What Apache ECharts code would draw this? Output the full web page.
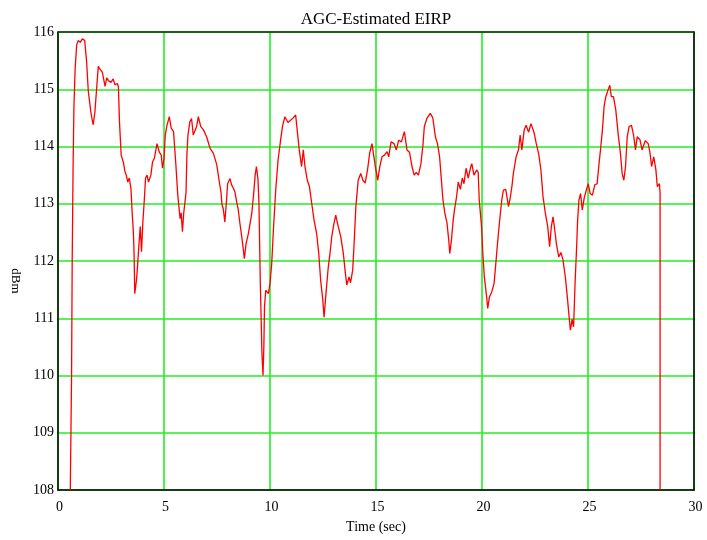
<!DOCTYPE html>
<html><head><meta charset="utf-8">
<script src="https://cdn.jsdelivr.net/npm/echarts@6/dist/echarts.min.js"></script>
<style>html,body{margin:0;padding:0;background:#fff}#c{width:707px;height:540px}</style>
</head><body><div id="c"></div>
<script>
const xTicks = [0, 5, 10, 15, 20, 25, 30];
const yTicks = [108, 109, 110, 111, 112, 113, 114, 115, 116];
const timeSec = [
0.58,0.64,0.67,0.71,0.75,0.81,0.88,0.95,1.05,1.15,1.26,1.35,1.43,1.55,1.62,1.66,1.74,1.82,1.9,1.98,
2.09,2.22,2.3,2.38,2.5,2.6,2.69,2.8,2.85,2.9,2.98,3.08,3.16,3.22,3.29,3.36,3.44,3.5,3.55,3.58,
3.6,3.62,3.7,3.74,3.81,3.88,3.94,4.0,4.07,4.13,4.2,4.27,4.38,4.46,4.55,4.67,4.78,4.87,4.93,5.0,
5.06,5.14,5.25,5.34,5.45,5.56,5.65,5.76,5.81,5.87,5.93,6.0,6.04,6.08,6.13,6.22,6.3,6.38,6.46,6.54,
6.62,6.73,6.86,7.01,7.17,7.33,7.49,7.61,7.69,7.73,7.8,7.87,7.95,8.0,8.03,8.11,8.19,8.27,8.35,8.43,
8.5,8.58,8.69,8.79,8.87,8.98,9.14,9.23,9.3,9.36,9.43,9.48,9.54,9.58,9.62,9.67,9.71,9.74,9.8,9.86,
9.92,10.0,10.08,10.16,10.27,10.38,10.5,10.59,10.7,10.85,10.97,11.1,11.21,11.29,11.38,11.49,11.57,11.65,11.76,11.86,
11.97,12.08,12.2,12.3,12.39,12.49,12.55,12.64,12.75,12.83,12.91,12.99,13.1,13.22,13.34,13.46,13.54,13.62,13.73,13.8,
13.9,13.96,14.05,14.16,14.28,14.38,14.49,14.6,14.7,14.81,14.9,14.97,15.08,15.18,15.28,15.4,15.52,15.6,15.71,15.85,
15.96,16.07,16.2,16.34,16.46,16.58,16.7,16.8,16.9,17.0,17.12,17.22,17.28,17.4,17.56,17.68,17.8,17.9,18.0,18.06,
18.16,18.25,18.35,18.43,18.48,18.56,18.64,18.7,18.8,18.88,18.98,19.07,19.15,19.25,19.35,19.47,19.52,19.62,19.75,19.82,
19.87,19.98,20.03,20.11,20.22,20.27,20.35,20.46,20.57,20.65,20.73,20.82,20.93,21.01,21.12,21.25,21.33,21.41,21.48,21.61,
21.72,21.8,21.88,21.99,22.08,22.2,22.31,22.45,22.56,22.67,22.78,22.88,22.99,23.1,23.19,23.27,23.35,23.43,23.51,23.62,
23.72,23.82,23.93,24.01,24.11,24.17,24.25,24.32,24.39,24.47,24.51,24.57,24.65,24.73,24.82,24.9,25.01,25.1,25.21,25.32,
25.43,25.52,25.59,25.68,25.76,25.84,25.95,26.03,26.1,26.2,26.31,26.42,26.53,26.61,26.69,26.77,26.85,26.94,27.05,27.15,
27.24,27.32,27.45,27.55,27.7,27.84,27.92,28.0,28.1,28.2,28.27,28.37,28.4,28.4
];
const eirpDbm = [
108,110,112,113.6,114.67,115.37,115.77,115.85,115.82,115.88,115.85,115.48,114.96,114.6,114.45,114.38,114.6,115.0,115.4,115.35,
115.3,115.05,115.2,115.15,115.12,115.18,115.08,115.1,115.04,114.43,113.85,113.73,113.56,113.5,113.38,113.45,113.27,112.83,112.54,112.25,
111.9,111.43,111.66,111.84,112.25,112.6,112.16,112.66,113.06,113.45,113.5,113.38,113.5,113.73,113.8,114.05,113.9,113.85,113.62,113.79,
114.2,114.37,114.52,114.32,114.26,113.68,113.15,112.74,112.84,112.51,112.84,113.06,113.2,113.85,114.2,114.43,114.49,114.2,114.17,114.35,
114.52,114.35,114.29,114.17,113.97,113.88,113.68,113.38,113.2,113.0,112.9,112.68,113.06,113.35,113.38,113.44,113.33,113.27,113.2,113.03,
112.9,112.66,112.36,112.04,112.3,112.48,112.83,113.18,113.5,113.65,113.44,113.0,111.66,111.02,110.38,110.0,110.5,111.2,111.49,111.52,
111.43,111.6,111.95,112.54,113.24,113.76,114.11,114.35,114.52,114.42,114.46,114.5,114.55,114.26,113.94,113.65,113.94,113.65,113.41,113.3,
113.0,112.71,112.48,112.13,111.66,111.32,111.02,111.43,111.9,112.13,112.42,112.6,112.8,112.6,112.42,112.13,111.84,111.58,111.72,111.62,
111.84,112.25,112.95,113.41,113.53,113.41,113.36,113.59,113.88,114.05,113.82,113.65,113.41,113.65,113.82,113.85,113.91,113.82,114.08,114.05,
113.94,114.11,114.08,114.26,113.94,113.9,113.65,113.5,113.55,113.5,113.7,114.05,114.35,114.49,114.58,114.5,114.17,114.05,113.82,113.53,
113.06,112.83,112.66,112.37,112.13,112.37,112.71,112.89,113.12,113.38,113.25,113.45,113.35,113.62,113.45,113.65,113.7,113.5,113.59,113.55,
113.06,112.6,112.19,111.72,111.37,111.17,111.37,111.46,111.61,111.95,112.3,112.66,113.06,113.24,113.25,112.95,113.1,113.3,113.53,113.82,
113.94,114.2,113.94,114.29,114.37,114.25,114.4,114.25,114.05,113.88,113.59,113.12,112.83,112.6,112.25,112.6,112.77,112.55,112.3,112.07,
112.15,112.02,111.72,111.43,111.02,110.79,110.98,110.85,111.61,112.3,112.71,113.06,113.18,112.89,113.1,113.21,113.35,113.18,113.15,113.33,
113.35,113.7,113.94,114.29,114.7,114.87,114.99,115.07,114.87,114.87,114.64,114.23,113.88,113.53,113.41,113.65,114.17,114.35,114.37,114.2,
113.94,114.17,114.12,113.94,114.1,114.05,113.9,113.65,113.82,113.6,113.3,113.35,113.18,108
];
const titleText = 'AGC-Estimated EIRP';
const xName = 'Time (sec)';
const yName = 'dBm';

const pts = timeSec.map((t, i) => [t, eirpDbm[i]]);
const serif = '"Liberation Serif", "DejaVu Serif", serif';
const gridGreen = {show: true, lineStyle: {color: '#22ee22', width: 1.6}};
const frameLine = {show: true, onZero: false, lineStyle: {color: '#000', width: 1.5}};
const chart = echarts.init(document.getElementById('c'), null, {renderer: 'canvas'});
chart.setOption({
  animation: false,
  backgroundColor: '#fff',
  title: {
    text: titleText, left: 371, top: 6, textAlign: 'center',
    textStyle: {fontFamily: serif, fontSize: 17, fontWeight: 'normal', color: '#000'}
  },
  grid: {left: 58, right: 13, top: 32, bottom: 50, show: false},
  xAxis: [{
    type: 'value', min: xTicks[0], max: xTicks[xTicks.length - 1], interval: 5,
    name: xName, nameLocation: 'middle', nameGap: 30,
    nameTextStyle: {fontFamily: serif, fontSize: 14, color: '#000'},
    axisLine: frameLine, axisTick: {show: false},
    axisLabel: {fontFamily: serif, fontSize: 14, color: '#000', margin: 10, padding: [0, 0, 0, 3]},
    splitLine: gridGreen
  }, {
    type: 'value', position: 'top', min: xTicks[0], max: xTicks[xTicks.length - 1], interval: 5,
    axisLine: {show: true, onZero: false, lineStyle: {color: '#0a300a', width: 1.5}},
    axisTick: {show: false}, axisLabel: {show: false}, splitLine: {show: false}
  }],
  yAxis: [{
    type: 'value', min: yTicks[0], max: yTicks[yTicks.length - 1], interval: 1,
    name: yName, nameLocation: 'middle', nameGap: 33, nameRotate: -90,
    nameTextStyle: {fontFamily: serif, fontSize: 13, color: '#000', padding: [0, 0, 0, 40]},
    axisLine: frameLine, axisTick: {show: false},
    axisLabel: {fontFamily: serif, fontSize: 14, color: '#000', margin: 4},
    splitLine: gridGreen
  }, {
    type: 'value', position: 'right', min: yTicks[0], max: yTicks[yTicks.length - 1], interval: 1,
    axisLine: frameLine, axisTick: {show: false}, axisLabel: {show: false}, splitLine: {show: false}
  }],
  series: [{
    type: 'line', data: pts, showSymbol: false, symbol: 'none',
    lineStyle: {color: '#ff0000', width: 1.3}, clip: true, z: 3
  }]
});
</script></body></html>
